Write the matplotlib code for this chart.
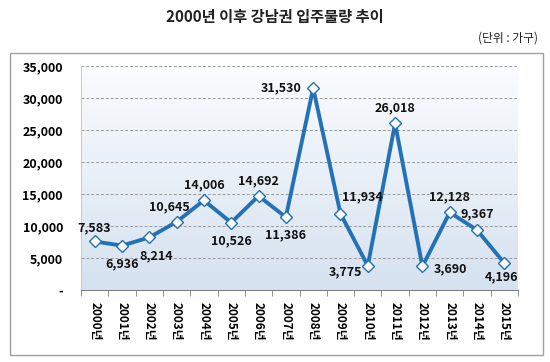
import matplotlib
matplotlib.use("Agg")
import matplotlib.pyplot as plt
import numpy as np
from matplotlib.patches import Rectangle

plt.rcParams['font.family'] = ['Noto Sans CJK KR', 'DejaVu Sans']

years = ["2000년", "2001년", "2002년", "2003년", "2004년", "2005년", "2006년", "2007년",
         "2008년", "2009년", "2010년", "2011년", "2012년", "2013년", "2014년", "2015년"]
values = [7583, 6936, 8214, 10645, 14006, 10526, 14692, 11386,
          31530, 11934, 3775, 26018, 3690, 12128, 9367, 4196]
yticks = [0, 5000, 10000, 15000, 20000, 25000, 30000, 35000]
ytick_labels = ["-", "5,000", "10,000", "15,000", "20,000", "25,000", "30,000", "35,000"]
# label offsets (points)
offsets = [(0, 10), (0, -13), (5, -13), (-5, 11), (0, 11), (0, -13), (0, 11), (0, -13),
           (-23, 0), (16, 12), (-16, -4), (0, 11), (20, -2), (0, 11), (0, 12), (-2, -10)]

fig = plt.figure(figsize=(5.5, 3.62), dpi=100)

# outer frame
fig.patches.append(Rectangle((10/550, 1-355/362), 533/550, 302/362, transform=fig.transFigure,
                             fill=False, edgecolor='#a0a0a0', linewidth=1.0))

fig.text(0.5, 1-17/362, "2000년 이후 강남권 입주물량 추이", ha='center', va='center',
         fontsize=11, fontweight='bold', color='#222222')
fig.text(508/550, 1-38/362, "(단위 : 가구)", ha='center', va='center', fontsize=8.5, color='#222222')

ax = fig.add_axes([81/550, 1-290/362, 437/550, 224/362])
x = np.arange(len(years))

# gradient background
grad = np.linspace(0, 1, 256).reshape(-1, 1)
top = np.array([0xfa, 0xfc, 0xfe]) / 255
bot = np.array([0xd6, 0xe2, 0xf0]) / 255
img = top[None, None, :] * (1 - grad[:, :, None]) + bot[None, None, :] * grad[:, :, None]
ax.imshow(img, extent=[-0.5, 15.5, 0, 35000], aspect='auto', zorder=0, origin='upper')

ax.set_xlim(-0.5, 15.5)
ax.set_ylim(0, 35000)
for yv in yticks[1:]:
    ax.axhline(yv, color='#9a9a9a', linestyle=(0, (3, 2)), linewidth=0.7, zorder=1)

ax.plot(x, values, color='#2372b6', linewidth=2.8, zorder=3,
        marker='D', markersize=6, markerfacecolor='white', markeredgecolor='#2372b6',
        markeredgewidth=1.0)

for xi, v, off in zip(x, values, offsets):
    ax.annotate(f"{v:,}", (xi, v), xytext=off, textcoords='offset points',
                ha='center', va='center', fontsize=9, fontweight='bold', color='#111111', zorder=4)

ax.set_yticks(yticks)
ax.set_yticklabels(ytick_labels, fontsize=9, fontweight='bold')
ax.tick_params(axis='y', length=0, pad=13)
for lab in ax.get_yticklabels():
    lab.set_horizontalalignment('right')

ax.set_xticks(x)
ax.set_xticklabels(years, rotation=270, fontsize=8.5, fontweight='bold', va='top', ha='center')
ax.tick_params(axis='x', which='major', length=0, pad=9)
ax.set_xticks(np.arange(-0.5, 16, 1), minor=True)
ax.tick_params(axis='x', which='minor', length=4, color='#808080', direction='out')

for s in ['top', 'right', 'left']:
    ax.spines[s].set_visible(False)
ax.spines['bottom'].set_color('#808080')
ax.axvline(-0.5, color='#c8c8c8', linewidth=0.7, zorder=1)

fig.savefig("out.png", dpi=100)
